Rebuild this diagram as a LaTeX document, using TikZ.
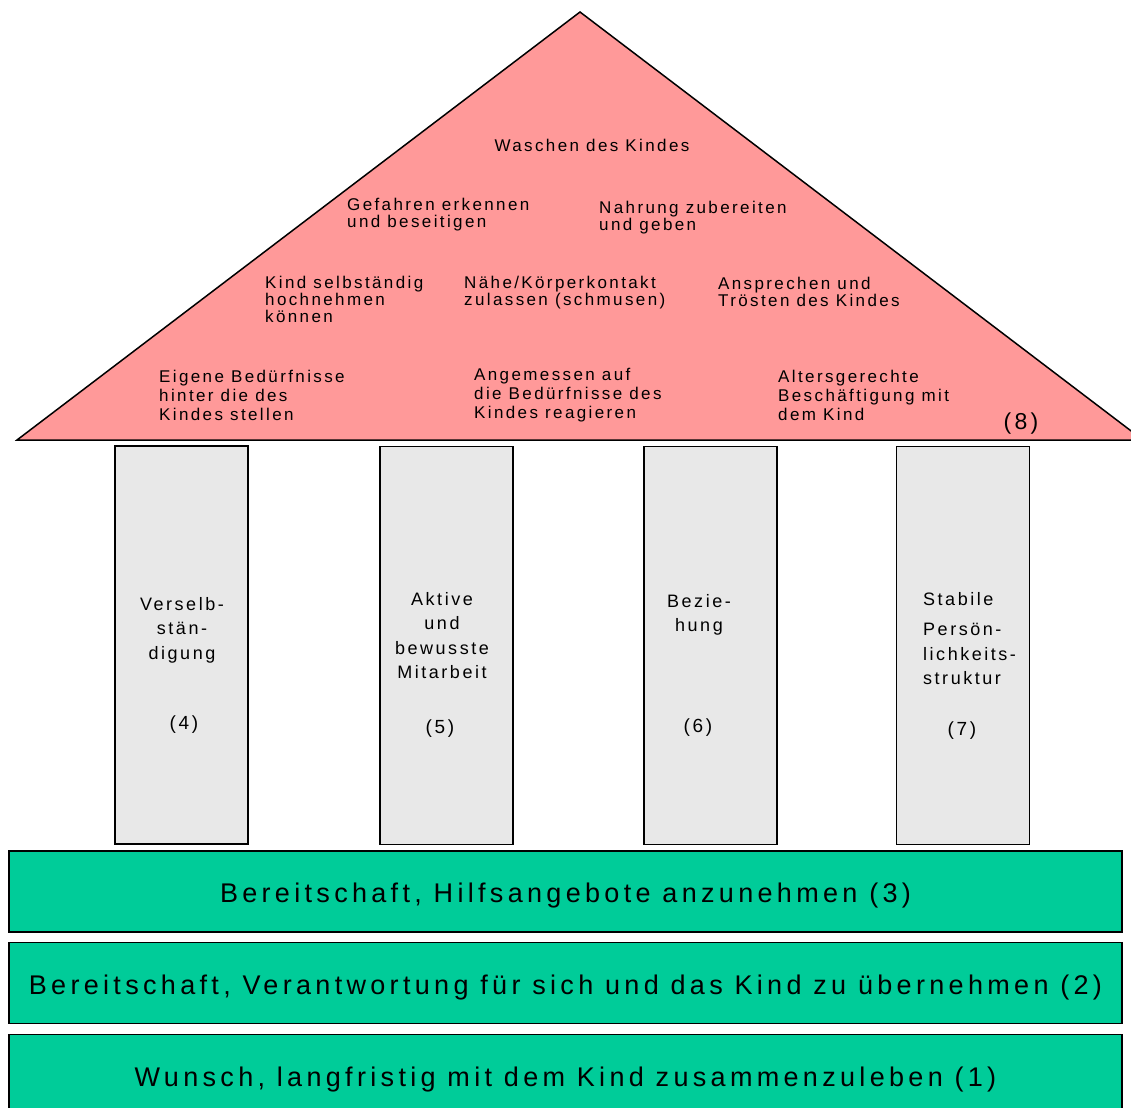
\documentclass[tikz,border=0pt]{standalone}
\usepackage{fontspec}
\setmainfont{Liberation Sans}[LetterSpace=14]
\newfontfamily\layerfont{Liberation Sans}[LetterSpace=16]

\definecolor{roofpink}{HTML}{FF9999}
\definecolor{pillargrey}{HTML}{E8E8E8}
\definecolor{basegreen}{HTML}{00CC99}

\tikzset{
  roof/.style={anchor=north west, align=left, inner sep=0pt, font=\fontsize{17}{17}\selectfont},
  pillar/.style={draw=black, line width=1.5pt, fill=pillargrey, minimum width=133pt, minimum height=398pt, inner sep=0pt},
  pillartext/.style={anchor=north, align=center, inner sep=0pt, font=\fontsize{18}{24.5}\selectfont},
  pillarnum/.style={inner sep=0pt, font=\fontsize{19}{19}\selectfont},
  layer/.style={draw=black, line width=1.5pt, fill=basegreen, minimum width=1113pt, minimum height=81pt, inner sep=0pt,
    text height=22.5pt, text depth=0pt, font=\layerfont\fontsize{27}{27}\selectfont}
}

\begin{document}
\begin{tikzpicture}[x=1pt, y=-1pt]
\useasboundingbox (0,0) rectangle (1131,1107);
\clip (0,0) rectangle (1131,1107);

% roof
\coordinate (apex) at (580,12);
\coordinate (eaveL) at (17,440);
\coordinate (eaveR) at (1143,440);
\draw[fill=roofpink, line width=1.5pt] (eaveL) -- (apex) -- (eaveR) -- cycle;

\node[roof, anchor=center] (wash) at (592,145) {Waschen des Kindes};
\node[roof] (danger) at (347,198) {Gefahren erkennen\\und beseitigen};
\node[roof] (food) at (599,201) {Nahrung zubereiten\\und geben};
\node[roof] (lift) at (265,276) {Kind selbständig\\hochnehmen\\können};
\node[roof] (touch) at (464,276) {Nähe/Körperkontakt\\zulassen (schmusen)};
\node[roof] (comfort) at (718,277) {Ansprechen und\\Trösten des Kindes};
\node[roof, font=\fontsize{17}{19}\selectfont] (needs) at (159,370) {Eigene Bedürfnisse\\hinter die des\\Kindes stellen};
\node[roof, font=\fontsize{17}{19}\selectfont] (react) at (474,368) {Angemessen auf\\die Bedürfnisse des\\Kindes reagieren};
\node[roof, font=\fontsize{17}{19}\selectfont] (play) at (778,370) {Altersgerechte\\Beschäftigung mit\\dem Kind};
\node[inner sep=0pt, font=\fontsize{23}{23}\selectfont] (roofnum) at (1021,424) {(8)};

% pillars
\node[pillar] (p4) at (181.5,645) {};
\node[pillar] (p5) at (446.5,645.5) {};
\node[pillar] (p6) at (710.5,645.5) {};
\node[pillar] (p7) at (963,645.5) {};

\node[pillartext] (t4) at (182,597) {Verselb-\\stän-\\digung};
\node[pillartext] (t5) at (442,592) {Aktive\\und\\bewusste\\Mitarbeit};
\node[pillartext] (t6) at (699,594) {Bezie-\\hung};
\node[pillartext, anchor=north west, align=left] (t7) at (923,592) {Stabile\\[6pt]Persön-\\lichkeits-\\struktur};

\node[pillarnum] (n4) at (184,725) {(4)};
\node[pillarnum] (n5) at (440,729) {(5)};
\node[pillarnum] (n6) at (698,728) {(6)};
\node[pillarnum] (n7) at (962,731) {(7)};

% foundation
\node[layer] (l3) at (565.5,891.5) {Bereitschaft, Hilfsangebote anzunehmen (3)};
\node[layer] (l2) at (565.5,983) {Bereitschaft, Verantwortung für sich und das Kind zu übernehmen (2)};
\node[layer] (l1) at (565.5,1075) {Wunsch, langfristig mit dem Kind zusammenzuleben (1)};
\end{tikzpicture}
\end{document}
